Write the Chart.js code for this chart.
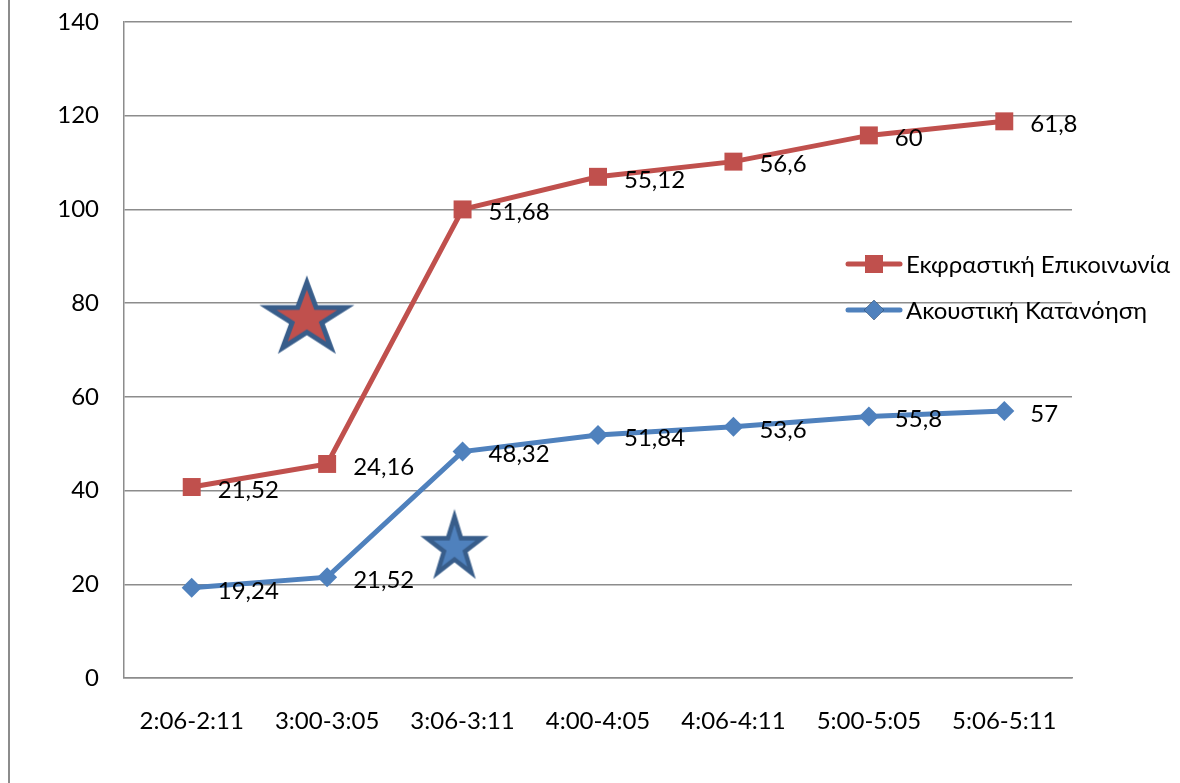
<!DOCTYPE html>
<html>
<head>
<meta charset="utf-8">
<script src="https://cdn.jsdelivr.net/npm/chart.js@4.4.1/dist/chart.umd.min.js"></script>
<style>
  html, body { margin: 0; padding: 0; background: #fff; }
  #wrap { position: relative; width: 1180px; height: 783px; }
</style>
</head>
<body>
<div id="wrap"><canvas id="myChart" width="1180" height="783"></canvas></div>
<script>
const labels = ["2:06-2:11", "3:00-3:05", "3:06-3:11", "4:00-4:05", "4:06-4:11", "5:00-5:05", "5:06-5:11"];
const akoustiki = [19.24, 21.52, 48.32, 51.84, 53.6, 55.8, 57];
const ekfrastiki = [21.52, 24.16, 51.68, 55.12, 56.6, 60, 61.8];
// the two stars drawn on the chart, in axis units (x = category index)
const starX = [0.85, 1.94];
const starY = [76.7, 27.8];

const RED = "#C0504D";
const BLUE = "#4F81BD";
const DARK = "#385D8A";
const GRID = "#8c8c8c";
const FONT_FAMILY = "Lato, 'Open Sans', sans-serif";
const FONT_SIZE = 24;

function makeStar(rx, ry, fill, stroke, lw) {
  const c = document.createElement("canvas");
  const pad = lw * 2 + 2;
  c.width = Math.ceil(2 * (rx + pad));
  c.height = Math.ceil(2 * (ry + pad));
  const ctx = c.getContext("2d");
  const cx = c.width / 2, cy = c.height / 2;
  ctx.beginPath();
  for (let i = 0; i < 10; i++) {
    const r = i % 2 === 0 ? 1 : 0.382;
    const a = -Math.PI / 2 + i * Math.PI / 5;
    const px = cx + Math.cos(a) * rx * r;
    const py = cy + Math.sin(a) * ry * r;
    if (i === 0) ctx.moveTo(px, py); else ctx.lineTo(px, py);
  }
  ctx.closePath();
  ctx.fillStyle = fill;
  ctx.fill();
  ctx.lineWidth = lw;
  ctx.strokeStyle = stroke;
  ctx.stroke();
  return c;
}

const starImages = [makeStar(41, 36, RED, DARK, 5), makeStar(29, 31, BLUE, DARK, 4.5)];

const valueLabels = {
  id: "valueLabels",
  afterDatasetsDraw(chart) {
    const ctx = chart.ctx;
    ctx.save();
    ctx.font = FONT_SIZE + "px " + FONT_FAMILY;
    ctx.fillStyle = "#000";
    ctx.textBaseline = "middle";
    ctx.textAlign = "left";
    chart.data.datasets.forEach((ds, i) => {
      if (!ds.showValues) return;
      chart.getDatasetMeta(i).data.forEach((pt, j) => {
        const v = ds.data[j].y;
        ctx.fillText(String(v).replace(".", ","), pt.x + 26, pt.y + 3);
      });
    });
    ctx.restore();
  }
};

const sideLegend = {
  id: "sideLegend",
  beforeDraw(chart) {
    const ctx = chart.ctx;
    ctx.save();
    ctx.fillStyle = GRID;
    ctx.fillRect(8, 0, 2, chart.height);
    ctx.restore();
  },
  afterDraw(chart) {
    const ctx = chart.ctx;
    const items = chart.data.datasets.filter(d => d.showValues).reverse();
    ctx.save();
    ctx.font = FONT_SIZE + "px " + FONT_FAMILY;
    ctx.textBaseline = "middle";
    items.forEach((ds, k) => {
      const y = 264 + k * 46;
      ctx.strokeStyle = ds.borderColor;
      ctx.lineWidth = 5;
      ctx.lineCap = "round";
      ctx.beginPath();
      ctx.moveTo(848, y);
      ctx.lineTo(900, y);
      ctx.stroke();
      Chart.helpers.drawPoint(ctx, { pointStyle: ds.pointStyle, radius: ds.pointRadius, borderWidth: 0 }, 874, y);
      ctx.fillStyle = ds.borderColor;
      ctx.fill();
      ctx.fillStyle = "#000";
      ctx.fillText(ds.label, 906, y + 1);
    });
    ctx.restore();
  }
};

new Chart(document.getElementById("myChart"), {
  type: "line",
  data: {
    datasets: [
      {
        label: "Ακουστική Κατανόηση",
        data: akoustiki.map((v, i) => ({ x: i, y: v })),
        borderColor: BLUE,
        backgroundColor: BLUE,
        borderWidth: 5,
        pointStyle: "rectRot",
        pointRadius: 10,
        pointBorderWidth: 0,
        tension: 0,
        fill: false,
        showValues: true
      },
      {
        label: "Εκφραστική Επικοινωνία",
        data: ekfrastiki.map((v, i) => ({ x: i, y: v })),
        borderColor: RED,
        backgroundColor: RED,
        borderWidth: 5,
        pointStyle: "rect",
        pointRadius: 12.7,
        pointBorderWidth: 0,
        tension: 0,
        fill: false,
        showValues: true
      },
      {
        label: "stars",
        stack: "stars",
        data: starX.map((x, i) => ({ x: x, y: starY[i] })),
        showLine: false,
        pointStyle: starImages,
        pointRadius: 1
      }
    ]
  },
  options: {
    responsive: false,
    animation: false,
    layout: { autoPadding: false, padding: { top: 22, right: 108, left: 0, bottom: 0 } },
    plugins: { legend: { display: false }, tooltip: { enabled: false } },
    scales: {
      x: {
        type: "linear",
        min: -0.5,
        max: 6.5,
        afterBuildTicks: s => { s.ticks = labels.map((l, i) => ({ value: i })); },
        afterFit: s => { s.height = 105; },
        grid: { display: false, drawTicks: false },
        border: { display: true, color: GRID, width: 1.5 },
        ticks: {
          padding: 29,
          color: "#000",
          font: { family: FONT_FAMILY, size: FONT_SIZE },
          maxRotation: 0,
          callback: v => labels[v] ?? ""
        }
      },
      y: {
        stacked: true,
        min: 0,
        max: 140,
        afterFit: s => { s.width = 124; s.paddingTop = 0; s.paddingBottom = 0; },
        grid: { color: GRID, lineWidth: 1.5, drawTicks: false },
        border: { display: true, color: GRID, width: 1.5 },
        ticks: {
          stepSize: 20,
          padding: 25,
          color: "#000",
          font: { family: FONT_FAMILY, size: FONT_SIZE }
        }
      }
    }
  },
  plugins: [valueLabels, sideLegend]
});
</script>
</body>
</html>
